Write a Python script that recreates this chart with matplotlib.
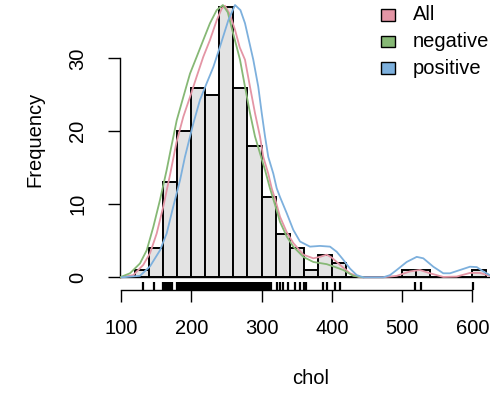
import matplotlib
matplotlib.use("Agg")
import matplotlib.pyplot as plt
from matplotlib.patches import Rectangle
import matplotlib.transforms as mtransforms

plt.rcParams['font.family'] = ['Liberation Sans', 'DejaVu Sans']

# ---------------- data ----------------
bin_edges = [120, 140, 160, 180, 200, 220, 240, 260, 280, 300, 320, 340, 360,
             380, 400, 420, 440, 460, 480, 500, 520, 540, 560, 580, 600, 620]
counts = [1, 4, 13, 20, 26, 25, 37, 26, 18, 11, 6, 4, 1, 3, 2, 0, 0, 0, 0,
          1, 1, 0, 0, 0, 1]

all_x = [100, 117.5, 131.7, 141.3, 150.8, 160.2, 169.7, 179, 188.7, 198.2, 207.7,
         217.1, 226.6, 236.2, 243.3, 248, 255, 262.3, 269, 276.5, 283.6, 290.7,
         297.8, 302.5, 309.6, 314.5, 320, 326.3, 335.8, 345.2, 359.5, 373.7,
         383.2, 392.8, 400, 411.7, 425.9, 440, 473, 492.4, 511.3, 525.5, 539.8,
         558.7, 577.8, 596.7, 611, 625]
all_y = [0, 0.3, 1.7, 3.3, 6.0, 9.7, 14.0, 18.5, 22.0, 24.7, 27.5, 30.2, 32.5,
         35.2, 36.8, 37.2, 36.0, 33.9, 31.5, 29.8, 26.1, 22.5, 19.3, 16.5, 14.2,
         12.2, 10.5, 8.3, 6.2, 4.7, 3.1, 2.6, 2.8, 3.1, 2.7, 1.7, 0.55, 0, 0,
         0.2, 0.8, 1.0, 0.55, 0.05, 0.1, 0.6, 0.6, 0.2]

neg_x = [98.6, 112.8, 127, 136.6, 146, 155.5, 165, 171, 179.3, 188.7, 198.2,
         207.7, 217.1, 226.6, 236.2, 245, 252, 258, 264, 269.4, 276.5, 283.6,
         290.7, 297.8, 305, 312, 319, 326.3, 335.8, 345.2, 359.5, 373.7, 392.8,
         405, 416.4, 430.6, 445]
neg_y = [0, 0.55, 1.9, 3.7, 6.9, 10.6, 14.7, 17.6, 21.5, 24.7, 27.9, 30.2, 32.5,
         34.8, 36.6, 37.3, 36.3, 34.0, 31.8, 29.8, 26.1, 22.5, 19.3, 17.0, 14.7,
         12.2, 10.0, 7.6, 5.6, 4.2, 2.8, 2.1, 1.8, 1.4, 1.0, 0.2, 0]

pos_x = [101.4, 127, 141.3, 155.5, 165, 174.4, 184, 191, 203, 212.4, 222, 231.4,
         240.9, 252.7, 262.3, 270, 276.5, 288.3, 295.4, 300.3, 305, 309.6, 316.8,
         321.6, 326.3, 335.8, 345.2, 354.8, 369, 383.2, 397.5, 407, 416.4, 425.9,
         435.5, 444.9, 473.3, 482.9, 492.4, 506.6, 520.9, 530.3, 544.5, 558.7,
         568.3, 582.5, 596.7, 606.3, 615.7, 625]
pos_y = [0, 0.2, 1.5, 3.7, 6.0, 9.7, 13.3, 16.5, 21.1, 24.3, 26.6, 28.8, 31.6,
         35.2, 37.3, 36.6, 34.8, 29.8, 26.1, 22.5, 19.3, 16.5, 14.2, 12.2, 11.0,
         8.8, 6.5, 4.9, 4.2, 4.3, 4.2, 3.5, 2.4, 1.2, 0.3, 0, 0, 0.3, 1.0, 2.1,
         2.8, 2.6, 1.45, 0.55, 0.55, 1.0, 1.45, 1.4, 0.8, 0.3]

rug_vals = [132, 147,
            160, 162, 164, 166, 168, 170, 172,
            179, 181, 183, 185, 187, 189, 191, 193, 195, 197, 199, 201, 203,
            205, 207, 209, 211, 213, 215, 217, 219, 221, 223, 225, 227, 229, 231,
            233, 235, 237, 239, 241, 243, 245, 247, 249, 251, 253, 255, 257, 259,
            262, 264, 266, 268, 270, 272, 274, 276, 278, 280, 282, 284, 286, 288,
            290, 292, 294, 296, 298,
            300, 303, 306, 309, 312,
            314, 322, 326, 330, 338, 347, 355, 361, 364,
            388, 393, 405, 411, 518, 527, 601]

x_ticks = [100, 200, 300, 400, 500, 600]
y_ticks = [0, 10, 20, 30]
legend_labels = ["All", "negative", "positive"]
colors = ["#E495A5", "#86B875", "#7DB0DD"]

# ---------------- figure ----------------
W, H = 490, 395
fig = plt.figure(figsize=(W / 100, H / 100), dpi=100)

def fx(px):
    return px / W

def fy(py):
    return 1 - py / H

ax = fig.add_axes([fx(120), fy(290), fx(490) - fx(120), fy(0) - fy(290)])
ax.set_xlim(98.58, 625.2)
ax.set_ylim(-1.74, 37.99)

widths = [bin_edges[i + 1] - bin_edges[i] for i in range(len(counts))]
ax.bar(bin_edges[:-1], counts, width=widths, align='edge', color='#E3E3E3',
       edgecolor='black', linewidth=1.4, zorder=2)
ax.axhline(0, color='black', linewidth=1.0, zorder=2.5)

ax.plot(all_x, all_y, color=colors[0], lw=1.3, zorder=3)
ax.plot(neg_x, neg_y, color=colors[1], lw=1.3, zorder=3)
ax.plot(pos_x, pos_y, color=colors[2], lw=1.3, zorder=3)

# rug
trans = mtransforms.blended_transform_factory(ax.transData, ax.transAxes)
rug_top = 8 / 290
for v in rug_vals:
    ax.plot([v, v], [0, rug_top], color='black', lw=1.6, transform=trans,
            zorder=4, clip_on=False, solid_capstyle='butt')

for s in ['top', 'right']:
    ax.spines[s].set_visible(False)
ax.spines['left'].set_bounds(0, 30)
ax.spines['bottom'].set_bounds(100, 600)
ax.spines['left'].set_linewidth(1.0)
ax.spines['bottom'].set_linewidth(1.0)

ax.set_xticks(x_ticks)
ax.set_xticklabels([str(t) for t in x_ticks])
ax.set_yticks(y_ticks)
ax.set_yticklabels([str(t) for t in y_ticks], rotation=90, va='center')
ax.tick_params(axis='both', direction='out', length=8.6, width=1.0,
               labelsize=14.5, colors='black')
ax.tick_params(axis='x', pad=12)
ax.tick_params(axis='y', pad=15)

fig.text(fx(35), fy(139), "Frequency", rotation=90, ha='center', va='center',
         fontsize=14.5)
fig.text(fx(311), fy(378), "chol", ha='center', va='center', fontsize=14.5)

# legend
box_w, box_h = 14, 11
for i, (lab, c) in enumerate(zip(legend_labels, colors)):
    cy = 15 + i * 26.5
    fig.patches.append(Rectangle((fx(381), fy(cy + box_h / 2)), box_w / W, box_h / H,
                                 transform=fig.transFigure, facecolor=c,
                                 edgecolor='black', linewidth=1.0))
    fig.text(fx(413), fy(cy), lab, ha='left', va='center', fontsize=14.5)

fig.savefig("out.png", dpi=100)
